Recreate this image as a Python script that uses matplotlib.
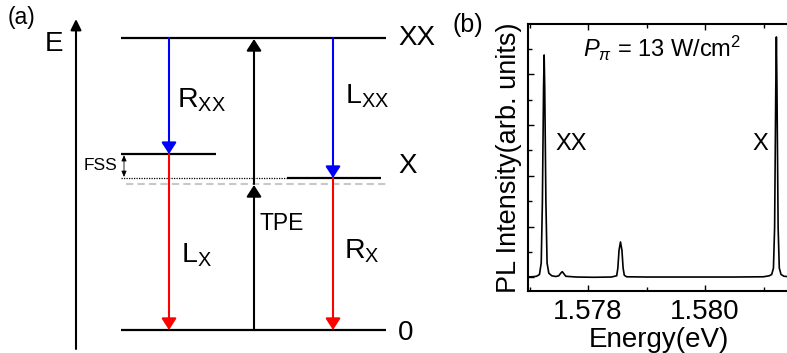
import matplotlib
matplotlib.use('Agg')
import matplotlib.pyplot as plt
from matplotlib.ticker import MultipleLocator, FixedLocator

plt.rcParams['font.family'] = ['Liberation Sans', 'DejaVu Sans']
plt.rcParams['mathtext.fontset'] = 'custom'
plt.rcParams['mathtext.rm'] = 'Liberation Sans'
plt.rcParams['mathtext.it'] = 'Liberation Sans:italic'

# --- (a) level scheme: energies in units of the TPE half energy ---
E_0 = 0.0
E_virt = 1.0      # two-photon virtual level (grey dashed)
E_XV = 1.041      # lower exciton level
E_XH = 1.205      # upper exciton level
E_XX = 2.0
level_names = ['XX', 'X', '0']
level_label_E = [E_XX, 1.12, -0.02]

# horizontal positions of the columns (px)
x_left, x_tpe, x_right = 169, 254, 333
lev_x0, lev_x1 = 121, 386

# --- (b) PL spectrum ---
energy = [1.57698, 1.57705, 1.57712, 1.57717, 1.57720, 1.57722, 1.57724, 1.57725,
          1.57726, 1.57728, 1.57730, 1.57733, 1.57738, 1.57745, 1.57750, 1.57754,
          1.57756, 1.57758, 1.57762, 1.57780, 1.57810, 1.57840, 1.57849, 1.57851,
          1.57853, 1.578555, 1.57858, 1.57860, 1.57862, 1.57866, 1.57900, 1.57950,
          1.58000, 1.58050, 1.58100, 1.58110, 1.58114, 1.58117, 1.58119, 1.58121,
          1.58122, 1.58123, 1.58125, 1.58127, 1.58130, 1.58135, 1.58145]
intensity = [0.56, 0.56, 0.58, 0.65, 1.1, 3.5, 8.0, 9.29,
             8.0, 3.5, 1.1, 0.7, 0.6, 0.57, 0.6, 0.72,
             0.76, 0.70, 0.58, 0.55, 0.54, 0.55, 0.60, 0.9,
             1.6, 1.93, 1.6, 0.9, 0.62, 0.56, 0.55, 0.55,
             0.55, 0.55, 0.56, 0.60, 0.65, 0.9, 2.5, 8.0,
             10.0, 8.0, 2.5, 0.9, 0.65, 0.58, 0.56]

fig = plt.figure(figsize=(7.87, 3.53), dpi=100)

# ---------------- panel (a) ----------------
ax = fig.add_axes([0, 0, 450 / 787, 1])
ax.set_xlim(0, 450)
ax.set_ylim(-0.1575, 2.2603)
ax.axis('off')

def arrow(x, y0, y1, color, hl=0.7, hw=0.45, lw=1.5):
    ax.annotate('', xy=(x, y1), xytext=(x, y0),
                arrowprops=dict(arrowstyle='-|>,head_length=%g,head_width=%g' % (hl, hw),
                                color=color, lw=lw, shrinkA=0, shrinkB=0,
                                mutation_scale=10))

# energy axis
arrow(76, -0.130, 2.130, 'black', hl=0.65, hw=0.32)
ax.text(54, 1.96, 'E', fontsize=20, ha='center', va='center')
ax.text(22, 2.14, '(a)', fontsize=16.5, ha='center', va='center')

# levels
ax.hlines([E_XX, E_0], lev_x0, lev_x1, color='black', lw=1.6)
ax.hlines(E_XH, lev_x0, 216, color='black', lw=1.6)
ax.hlines(E_XV, 287, 381, color='black', lw=1.6)
ax.hlines(E_XV, lev_x0, 287, color='black', lw=0.9, linestyles=(0, (1, 1)))
ax.plot([126, 386], [E_virt, E_virt], color='#c8c8c8', lw=1.5, linestyle=(0, (3.5, 2)))

for name, e in zip(level_names, level_label_E):
    ax.text(398, e, name, fontsize=20, ha='left', va='center')

# transitions
arrow(x_left, E_XX, E_XH, '#0000ff')
arrow(x_left, E_XH, E_0, '#ff0000')
arrow(x_right, E_XX, E_XV, '#0000ff')
arrow(x_right, E_XV, E_0, '#ff0000')
arrow(x_tpe, E_0, E_virt - 0.007, 'black')
arrow(x_tpe, E_virt, E_XX - 0.007, 'black')

# FSS
ax.annotate('', xy=(124, 1.198), xytext=(124, 1.048),
            arrowprops=dict(arrowstyle='<|-|>,head_length=0.35,head_width=0.15',
                            color='black', lw=0.6, shrinkA=0, shrinkB=0,
                            mutation_scale=10))
ax.text(117, 1.130, 'FSS', fontsize=12.5, ha='right', va='center')

ax.text(177, 1.521, r'$\mathrm{R_{XX}}$', fontsize=20.5, ha='left', va='baseline')
ax.text(345, 1.548, r'$\mathrm{L_{XX}}$', fontsize=20.5, ha='left', va='baseline')
ax.text(181, 0.459, r'$\mathrm{L_{X}}$', fontsize=20.5, ha='left', va='baseline')
ax.text(344, 0.493, r'$\mathrm{R_{X}}$', fontsize=20.5, ha='left', va='baseline')
ax.text(260, 0.685, 'TPE', fontsize=16.5, ha='left', va='baseline')

# ---------------- panel (b) ----------------
bx = fig.add_axes([528 / 787, 62 / 353, 262 / 787, 267 / 353])
bx.plot(energy, intensity, color='black', lw=1.2)
bx.set_xlim(1.576974, 1.581453)
bx.set_ylim(0, 10.51)
for s in bx.spines.values():
    s.set_linewidth(1.5)
bx.xaxis.set_major_locator(FixedLocator([1.578, 1.580]))
bx.xaxis.set_minor_locator(MultipleLocator(0.001))
bx.set_xticklabels(['1.578', '1.580'])
bx.yaxis.set_major_locator(MultipleLocator(2, offset=0.535))
bx.yaxis.set_minor_locator(MultipleLocator(1, offset=0.535))
bx.set_yticklabels([])
bx.tick_params(axis='x', which='both', direction='in', top=True, labelsize=20, pad=6)
bx.tick_params(axis='y', which='both', direction='in', right=False, labelleft=False)
bx.tick_params(which='major', length=4, width=1)
bx.tick_params(which='minor', length=3, width=1)
bx.set_xlabel('Energy(eV)', fontsize=20, labelpad=1)
bx.set_ylabel('PL Intensity(arb. units)', fontsize=19.5, labelpad=4)

bx.text(1.57771, 5.79, 'XX', fontsize=17, ha='center', va='center')
bx.text(1.58094, 5.79, 'X', fontsize=17, ha='center', va='center')
bx.text(1.57791, 9.21, r'$P_{\pi}$ = 13 W/cm$^{2}$', fontsize=17, ha='left', va='baseline')
fig.text(468 / 787, 1 - 25 / 353, '(b)', fontsize=18, ha='center', va='center')

fig.savefig('out.png', dpi=100)
